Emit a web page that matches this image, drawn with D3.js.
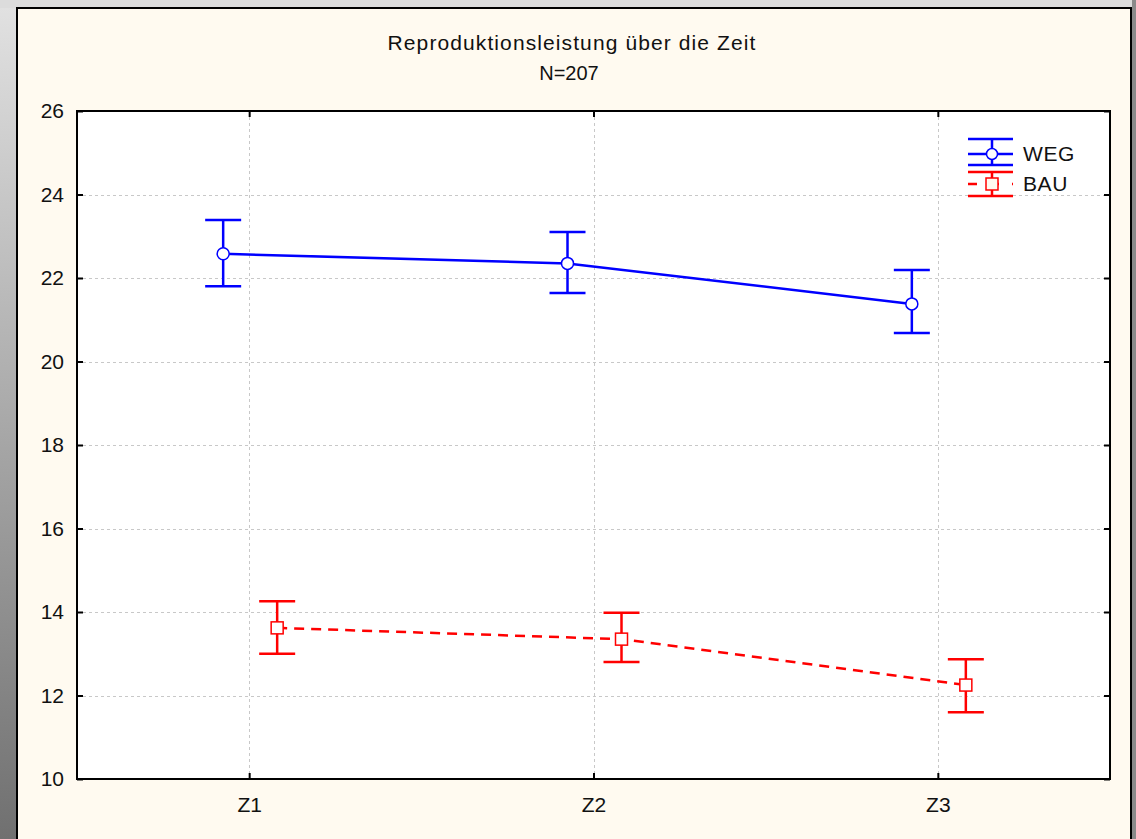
<!DOCTYPE html>
<html>
<head>
<meta charset="utf-8">
<script src="https://cdn.jsdelivr.net/npm/d3@7"></script>
<style>
  html, body { margin: 0; padding: 0; }
  body { width: 1136px; height: 839px; overflow: hidden; }
  svg { display: block; }
  text { font-family: "Liberation Sans", Arial, sans-serif; fill: #111; }
</style>
</head>
<body>
<svg id="chart" width="1136" height="839"></svg>
<script>
// Time points and group means with confidence bounds
const categories = ["Z1", "Z2", "Z3"];
const wegMean  = [22.58, 22.35, 21.38];
const wegUpper = [23.39, 23.10, 22.19];
const wegLower = [21.80, 21.64, 20.68];
const bauMean  = [13.62, 13.35, 12.25];
const bauUpper = [14.26, 13.98, 12.87];
const bauLower = [13.00, 12.80, 11.60];
const yTicks = [10, 12, 14, 16, 18, 20, 22, 24, 26];
const titleLines = ["Reproduktionsleistung über die Zeit", "N=207"];

const series = [
  { name: "WEG", color: "#0000ff", mean: wegMean, upper: wegUpper, lower: wegLower, offset: -26, dash: null, marker: "circle" },
  { name: "BAU", color: "#ff0000", mean: bauMean, upper: bauUpper, lower: bauLower, offset: 28, dash: "10,7", marker: "square" }
];

const svg = d3.select("#chart");
const W = 1136, H = 839;
const FS = 21;

// window backdrop
const defs = svg.append("defs");
const g1 = defs.append("linearGradient").attr("id", "sideGrad").attr("x1", 0).attr("y1", 0).attr("x2", 0).attr("y2", 1);
g1.append("stop").attr("offset", "0%").attr("stop-color", "#e2e2e2");
g1.append("stop").attr("offset", "100%").attr("stop-color", "#707070");
svg.append("rect").attr("x", 0).attr("y", 0).attr("width", W).attr("height", H).attr("fill", "url(#sideGrad)");
svg.append("rect").attr("x", 0).attr("y", 0).attr("width", W).attr("height", 8).attr("fill", "#dcdcdc");
svg.append("rect").attr("x", 1132).attr("y", 0).attr("width", 4).attr("height", H).attr("fill", "#8a8a8a");

// cream panel
svg.append("rect").attr("x", 17).attr("y", 8).attr("width", 1114).attr("height", 850)
  .attr("fill", "#fffaf0").attr("stroke", "#000").attr("stroke-width", 2);

const plot = { left: 77, top: 111, right: 1110, bottom: 779 };
const pw = plot.right - plot.left, ph = plot.bottom - plot.top;

const x = d3.scalePoint().domain(categories).range([plot.left, plot.right]).padding(0.5);
const y = d3.scaleLinear().domain([10, 26]).range([plot.bottom, plot.top]);

svg.append("rect").attr("x", plot.left).attr("y", plot.top).attr("width", pw).attr("height", ph).attr("fill", "#fff");

// grid
const grid = svg.append("g").attr("stroke", "#c8c8c8").attr("stroke-width", 1).attr("stroke-dasharray", "3,3");
yTicks.filter(t => t > 10 && t < 26).forEach(t => {
  grid.append("line").attr("x1", plot.left).attr("x2", plot.right).attr("y1", Math.round(y(t)) + 0.5).attr("y2", Math.round(y(t)) + 0.5);
});
categories.forEach(c => {
  grid.append("line").attr("y1", plot.top).attr("y2", plot.bottom).attr("x1", Math.round(x(c)) + 0.5).attr("x2", Math.round(x(c)) + 0.5);
});

// axes with inward ticks
const yAxisL = d3.axisLeft(y).tickValues(yTicks).tickSize(-6).tickPadding(13).tickFormat(d3.format("d"));
const yAxisR = d3.axisRight(y).tickValues(yTicks).tickSize(-6).tickFormat("");
const xAxisB = d3.axisBottom(x).tickSize(-6).tickPadding(18);
const xAxisT = d3.axisTop(x).tickSize(-6).tickFormat("");

function styleAxis(g) {
  g.select(".domain").remove();
  g.selectAll(".tick line").attr("stroke", "#000").attr("stroke-width", 2);
  g.selectAll(".tick text").attr("font-size", FS).attr("fill", "#111")
    .attr("font-family", "'Liberation Sans', Arial, sans-serif");
}
svg.append("g").attr("transform", `translate(${plot.left},0)`).call(yAxisL).call(styleAxis);
svg.append("g").attr("transform", `translate(${plot.right},0)`).call(yAxisR).call(styleAxis);
svg.append("g").attr("transform", `translate(0,${plot.bottom})`).call(xAxisB).call(styleAxis);
svg.append("g").attr("transform", `translate(0,${plot.top})`).call(xAxisT).call(styleAxis);

svg.append("rect").attr("x", plot.left).attr("y", plot.top).attr("width", pw).attr("height", ph)
  .attr("fill", "none").attr("stroke", "#000").attr("stroke-width", 2);

// title
svg.append("text").attr("x", 572).attr("y", 50).attr("text-anchor", "middle").attr("font-size", FS)
  .attr("letter-spacing", 1.1).text(titleLines[0]);
svg.append("text").attr("x", 569).attr("y", 80).attr("text-anchor", "middle").attr("font-size", 20)
  .text(titleLines[1]);

// series
const capHalf = 18;
series.forEach(s => {
  const px = i => x(categories[i]) + s.offset;
  const pts = s.mean.map((v, i) => [px(i), y(v)]);
  svg.append("path").attr("d", d3.line()(pts)).attr("fill", "none").attr("stroke", s.color)
    .attr("stroke-width", 2.5).attr("stroke-dasharray", s.dash);
  const eb = svg.append("g").attr("stroke", s.color).attr("stroke-width", 2.5);
  s.mean.forEach((v, i) => {
    const cx = px(i);
    eb.append("line").attr("x1", cx).attr("x2", cx).attr("y1", y(s.upper[i])).attr("y2", y(s.lower[i]));
    eb.append("line").attr("x1", cx - capHalf).attr("x2", cx + capHalf).attr("y1", y(s.upper[i])).attr("y2", y(s.upper[i]));
    eb.append("line").attr("x1", cx - capHalf).attr("x2", cx + capHalf).attr("y1", y(s.lower[i])).attr("y2", y(s.lower[i]));
  });
  s.mean.forEach((v, i) => {
    const cx = px(i), cy = y(v);
    if (s.marker === "circle") {
      svg.append("circle").attr("cx", cx).attr("cy", cy).attr("r", 6)
        .attr("fill", "#fff").attr("stroke", s.color).attr("stroke-width", 1.5);
    } else {
      svg.append("rect").attr("x", cx - 6).attr("y", cy - 6).attr("width", 12).attr("height", 12)
        .attr("fill", "#fff").attr("stroke", s.color).attr("stroke-width", 1.5);
    }
  });
});

// legend
const legend = svg.append("g");
const legendRows = [
  { s: series[0], top: 139, mid: 154, bottom: 165 },
  { s: series[1], top: 172, mid: 184, bottom: 196 }
];
legendRows.forEach(r => {
  const lx0 = 968, lx1 = 1013, cx = 992;
  const g = legend.append("g").attr("stroke", r.s.color).attr("stroke-width", 2.5);
  g.append("line").attr("x1", lx0).attr("x2", lx1).attr("y1", r.top).attr("y2", r.top);
  g.append("line").attr("x1", lx0).attr("x2", lx1).attr("y1", r.bottom).attr("y2", r.bottom);
  g.append("line").attr("x1", cx).attr("x2", cx).attr("y1", r.top).attr("y2", r.bottom);
  g.append("line").attr("x1", lx0).attr("x2", lx1).attr("y1", r.mid).attr("y2", r.mid)
    .attr("stroke-dasharray", r.s.dash ? "9,13" : null);
  if (r.s.marker === "circle") {
    legend.append("circle").attr("cx", cx).attr("cy", r.mid).attr("r", 5.5)
      .attr("fill", "#fff").attr("stroke", r.s.color).attr("stroke-width", 1.5);
  } else {
    legend.append("rect").attr("x", cx - 6).attr("y", r.mid - 6).attr("width", 12).attr("height", 12)
      .attr("fill", "#fffaf0").attr("stroke", r.s.color).attr("stroke-width", 1.5);
  }
  legend.append("text").attr("x", 1023).attr("y", r.mid + 7).attr("font-size", FS)
    .attr("letter-spacing", 0.6).text(r.s.name);
});
</script>
</body>
</html>
